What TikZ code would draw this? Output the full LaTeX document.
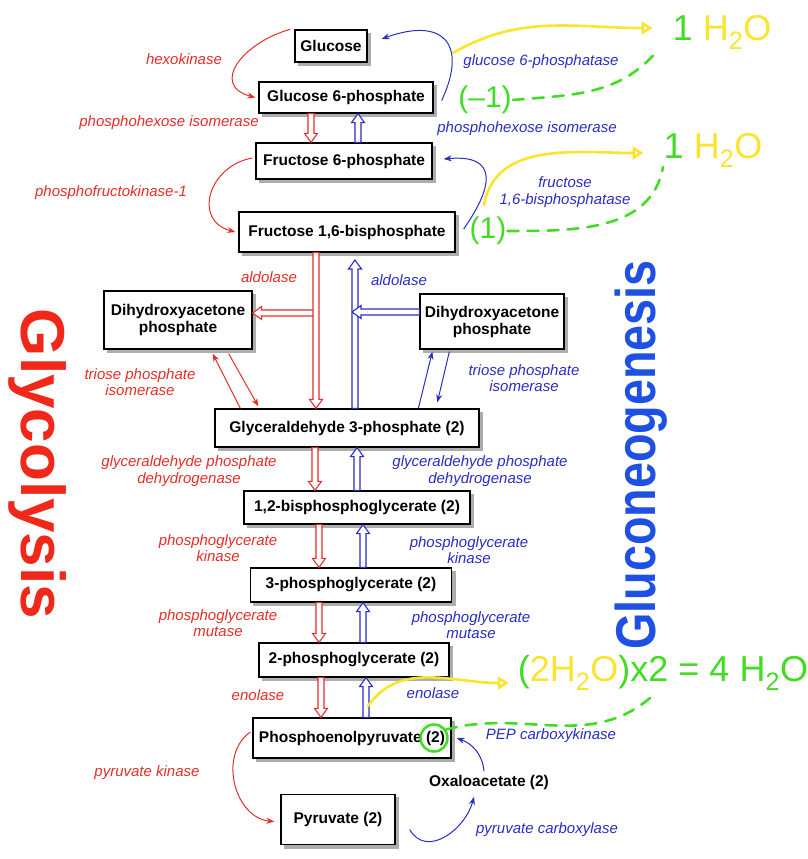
\documentclass[tikz,border=0pt]{standalone}
\usepackage{fontspec}
\setmainfont{Liberation Sans}
\usetikzlibrary{arrows.meta,calc,backgrounds}
\definecolor{glyred}{RGB}{228,45,40}
\definecolor{gngblue}{RGB}{40,45,195}
\definecolor{bigred}{RGB}{240,40,25}
\definecolor{bigblue}{RGB}{30,80,228}
\definecolor{penyel}{RGB}{250,228,45}
\definecolor{pengrn}{RGB}{65,220,35}
\begin{document}
\begin{tikzpicture}[x=1pt, y=1pt,
    box/.style={draw, line width=1.3pt, fill=white, inner sep=0pt, align=center,
      font=\bfseries\fontsize{15.5}{17}\selectfont},
    enz/.style={font=\itshape\fontsize{15}{16.5}\selectfont, align=center},
    enzarrow/.style={line width=1pt, -{Stealth[length=8pt,width=6pt]}},
    hollow/.style={draw=#1, line width=1.1pt, fill=white, line join=miter, to path={
      ($(\tikztostart)!3pt!90:(\tikztotarget)$)
      -- ($(\tikztotarget)!9pt!(\tikztostart)!3pt!90:(\tikztotarget)$)
      -- ($(\tikztotarget)!9pt!(\tikztostart)!6.5pt!90:(\tikztotarget)$)
      -- (\tikztotarget)
      -- ($(\tikztotarget)!9pt!(\tikztostart)!6.5pt!-90:(\tikztotarget)$)
      -- ($(\tikztotarget)!9pt!(\tikztostart)!3pt!-90:(\tikztotarget)$)
      -- ($(\tikztostart)!3pt!-90:(\tikztotarget)$) -- cycle}},
    pen/.style={line width=2.6pt, line cap=round},
    hand/.style={inner sep=1pt, font=\fontsize{36}{40}\selectfont}]
  \useasboundingbox (0,0) rectangle (807,-859);

  \node[rotate=-90, anchor=base, text=bigred, font=\bfseries\fontsize{62}{62}\selectfont] (glyco) at (21,-464) {Glycolysis};
  \node[rotate=90, anchor=base, text=bigblue, font=\bfseries\fontsize{56}{56}\selectfont] (gneo) at (655,-455) {\scalebox{0.835}[1]{Gluconeogenesis}};

  \node[box, minimum width=72pt, minimum height=32pt] (glc) at (331,-46) {Glucose};
  \node[box, minimum width=174pt, minimum height=31pt] (g6p) at (346,-97.5) {Glucose 6-phosphate};
  \node[box, minimum width=176pt, minimum height=36pt] (f6p) at (344,-161) {Fructose 6-phosphate};
  \node[box, minimum width=216pt, minimum height=40pt] (f16bp) at (347,-232) {Fructose 1,6-bisphosphate};
  \node[box, minimum width=148pt, minimum height=58pt] (dhapL) at (178,-320) {Dihydroxyacetone\\phosphate};
  \node[box, minimum width=144pt, minimum height=55pt] (dhapR) at (492,-321.5) {Dihydroxyacetone\\phosphate};
  \node[box, minimum width=264pt, minimum height=38pt] (g3p) at (347,-428) {Glyceraldehyde 3-phosphate (2)};
  \node[box, minimum width=226pt, minimum height=33pt] (bpg) at (357,-507.5) {1,2-bisphosphoglycerate (2)};
  \node[box, minimum width=201pt, minimum height=34pt] (pg3) at (351,-585) {3-phosphoglycerate (2)};
  \node[box, minimum width=190pt, minimum height=34pt] (pg2) at (354,-660) {2-phosphoglycerate (2)};
  \node[box, minimum width=198pt, minimum height=40pt] (pep) at (352,-738) {Phosphoenolpyruvate (2)};
  \node[font=\bfseries\fontsize{15.5}{17}\selectfont] (oaa) at (489,-782) {Oxaloacetate (2)};
  \node[box, minimum width=114pt, minimum height=50pt] (pyr) at (338,-819.5) {Pyruvate (2)};
  \begin{scope}[on background layer]
    \foreach \b in {glc,g6p,f6p,f16bp,dhapL,dhapR,g3p,bpg,pg3,pg2,pep,pyr}
      \fill[black!32] ([shift={(3.5,-3.5)}]\b.south west) rectangle ([shift={(3.5,-3.5)}]\b.north east);
  \end{scope}

  \node[enz, text=glyred] (hk) at (184,-59) {hexokinase};
  \node[enz, text=gngblue] (g6pase) at (541,-62) {glucose 6-phosphatase};
  \node[enz, text=glyred] (phiR) at (169,-123) {phosphohexose isomerase};
  \node[enz, text=gngblue] (phiB) at (527,-129) {phosphohexose isomerase};
  \node[enz, text=glyred] (pfk) at (111,-193) {phosphofructokinase-1};
  \node[enz, text=gngblue] (fbpase) at (565,-192) {fructose\\1,6-bisphosphatase};
  \node[enz, text=glyred] (aldR) at (269,-277) {aldolase};
  \node[enz, text=gngblue] (aldB) at (399,-280) {aldolase};
  \node[enz, text=glyred] (tpiR) at (140,-382) {triose phosphate\\isomerase};
  \node[enz, text=gngblue] (tpiB) at (524,-378) {triose phosphate\\isomerase};
  \node[enz, text=glyred] (gapdhR) at (189,-471) {glyceraldehyde phosphate\\dehydrogenase};
  \node[enz, text=gngblue] (gapdhB) at (480,-471) {glyceraldehyde phosphate\\dehydrogenase};
  \node[enz, text=glyred] (pgkR) at (218,-548) {phosphoglycerate\\kinase};
  \node[enz, text=gngblue] (pgkB) at (469,-550) {phosphoglycerate\\kinase};
  \node[enz, text=glyred] (pgmR) at (218,-623) {phosphoglycerate\\mutase};
  \node[enz, text=gngblue] (pgmB) at (471,-625) {phosphoglycerate\\mutase};
  \node[enz, text=glyred] (enoR) at (258,-695) {enolase};
  \node[enz, text=gngblue] (enoB) at (433,-693) {enolase};
  \node[enz, text=gngblue] (pepck) at (551,-736) {PEP carboxykinase};
  \node[enz, text=glyred] (pk) at (147,-773) {pyruvate kinase};
  \node[enz, text=gngblue] (pc) at (547,-830) {pyruvate carboxylase};

  \draw[hollow=glyred] (311,0 |- g6p.south) to (311,0 |- f6p.north);
  \draw[hollow=gngblue] (358,0 |- f6p.north) to (358,0 |- g6p.south);
  \draw[hollow=glyred] (316,-313) to (dhapL.east |- 0,-313);
  \draw[hollow=glyred] (316,0 |- f16bp.south) to (316,0 |- g3p.north);
  \draw[hollow=gngblue] (355,0 |- g3p.north) to (355,-260);
  \draw[hollow=gngblue] (dhapR.west |- 0,-312) to (352,-312);
  \draw[hollow=glyred] (315,0 |- g3p.south) to (315,0 |- bpg.north);
  \draw[hollow=gngblue] (357,0 |- bpg.north) to (357,0 |- g3p.south);
  \draw[hollow=glyred] (319,0 |- bpg.south) to (319,0 |- pg3.north);
  \draw[hollow=gngblue] (363,0 |- pg3.north) to (363,0 |- bpg.south);
  \draw[hollow=glyred] (319,0 |- pg3.south) to (319,0 |- pg2.north);
  \draw[hollow=gngblue] (363,0 |- pg2.north) to (363,0 |- pg3.south);
  \draw[hollow=glyred] (321,0 |- pg2.south) to (321,0 |- pep.north);
  \draw[hollow=gngblue] (366,0 |- pep.north) to (366,0 |- pg2.south);

  \draw[enzarrow, glyred] ([xshift=-4pt]glc.north west) to[out=195, in=165, looseness=1.6] ([xshift=-3pt]g6p.west);
  \draw[enzarrow, gngblue] ([xshift=8pt,yshift=-3pt]g6p.east) to[out=65, in=20, looseness=1.9] ([xshift=14pt,yshift=7pt]glc.east);
  \draw[enzarrow, glyred] ([xshift=-3pt,yshift=3pt]f6p.west) to[out=190, in=165, looseness=1.5] ([xshift=-3pt]f16bp.west);
  \draw[enzarrow, gngblue] ([xshift=8pt,yshift=3pt]f16bp.east) to[out=55, in=5, looseness=1.9] ([xshift=11pt,yshift=2pt]f6p.east);
  \draw[enzarrow, glyred] ([xshift=26pt]g3p.north west) -- ([xshift=-40pt,yshift=-4pt]dhapL.south east);
  \draw[enzarrow, glyred] ([xshift=-24pt,yshift=-4pt]dhapL.south east) -- ([xshift=44pt,yshift=2pt]g3p.north west);
  \draw[enzarrow, gngblue] ([xshift=204pt]g3p.north west) -- ([xshift=13pt,yshift=-2pt]dhapR.south west);
  \draw[enzarrow, gngblue] ([xshift=30pt,yshift=-2pt]dhapR.south west) -- ([xshift=223pt,yshift=6pt]g3p.north west);
  \draw[enzarrow, glyred] ([xshift=-2pt,yshift=6pt]pep.west) to[out=215, in=175, looseness=1.1] ([xshift=-6pt,yshift=-2pt]pyr.west);
  \draw[enzarrow, gngblue] ([xshift=-5pt]oaa.north) to[out=95, in=-20] ([xshift=5pt]pep.east);
  \draw[enzarrow, gngblue] ([xshift=14pt,yshift=-10pt]pyr.east) to[out=-60, in=-105, looseness=1.2] ([xshift=-15pt,yshift=-4pt]oaa.south);

  \coordinate (y1s) at (453,-53);
  \coordinate (y2s) at (484,-205);
  \coordinate (y3s) at (368,-706);
  \coordinate (g1e) at (658,-50);
  \coordinate (g2e) at (663,-167);
  \coordinate (g3e) at (650,-698);
  \node[hand, text=penyel] (w1) at (722,-32) {\textcolor{pengrn}{1} H\textsubscript{2}O};
  \node[hand, text=penyel] (w2) at (713,-150) {\textcolor{pengrn}{1} H\textsubscript{2}O};
  \node[hand, text=pengrn] (w3) at (663,-673) {(\textcolor{penyel}{2H\textsubscript{2}O})x2 = 4 H\textsubscript{2}O};
  \node[hand, text=pengrn, font=\fontsize{30}{32}\selectfont] (m1) at (485,-100) {(--1)};
  \node[hand, text=pengrn, font=\fontsize{30}{32}\selectfont] (m2) at (488,-231) {(1)};
  \node[draw=pengrn, circle, line width=2.5pt, minimum size=27pt] (cir) at (434,-738) {};
  \draw[pen, penyel, -{Triangle[open, length=11pt, width=13pt]}] (y1s) to[out=30, in=180] ([xshift=-19pt,yshift=4pt]w1.west);
  \draw[pen, penyel, -{Triangle[open, length=11pt, width=13pt]}] (y2s) to[out=80, in=180] ([xshift=-19pt,yshift=-3pt]w2.west);
  \draw[pen, penyel, -{Triangle[open, length=11pt, width=13pt]}] (y3s) to[out=55, in=180] ([xshift=-8pt,yshift=-10pt]w3.west);
  \draw[pen, pengrn, dash pattern=on 11pt off 9pt] (m1.east) to[out=5, in=-130] (g1e);
  \draw[pen, pengrn, dash pattern=on 11pt off 9pt] (m2.east) to[out=0, in=-100] (g2e);
  \draw[pen, pengrn, dash pattern=on 11pt off 9pt] (cir.35) to[out=15, in=-140] (g3e);
\end{tikzpicture}
\end{document}
